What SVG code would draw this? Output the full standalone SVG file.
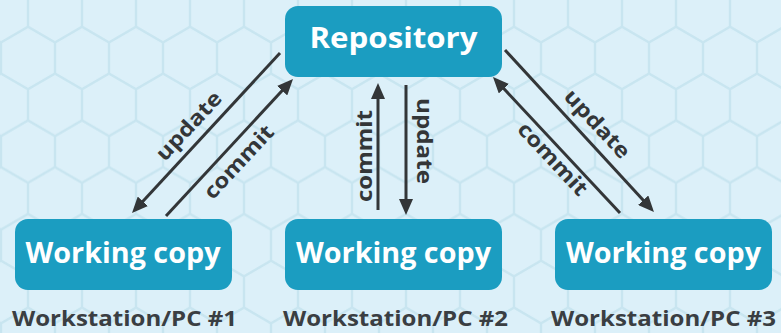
<svg xmlns="http://www.w3.org/2000/svg" width="781" height="333" viewBox="0 0 781 333">
  <style>
    .box { fill: #1b9dc1; }
    .title { font-family: "Open Sans", "Liberation Sans", sans-serif; font-weight: 700; font-size: 28px; fill: #ffffff; text-anchor: middle; }
    .caption { font-family: "Open Sans", "Liberation Sans", sans-serif; font-weight: 700; font-size: 22px; fill: #3a3e42; text-anchor: middle; }
    .flow { stroke: #333638; stroke-width: 3; fill: none; marker-end: url(#head); }
    .tag { font-family: "Open Sans", "Liberation Sans", sans-serif; font-weight: 700; font-size: 21px; fill: #333638; text-anchor: middle; }
  </style>
  <defs>
    <!-- pointy-top honeycomb backdrop -->
    <pattern id="hex" patternUnits="userSpaceOnUse" x="1" y="11.2" width="54" height="93.6">
      <path d="M27,15.6 L54,31.2 L54,62.4 L27,78 L0,62.4 L0,31.2 Z M27,0 L27,15.6 M27,78 L27,93.6"
            fill="none" stroke="#c8e5f0" stroke-width="2.4"/>
    </pattern>
    <filter id="soft" x="0" y="0" width="1" height="1">
      <feGaussianBlur stdDeviation="0.7"/>
    </filter>
    <marker id="head" markerUnits="userSpaceOnUse" markerWidth="16" markerHeight="14" refX="6" refY="7" orient="auto">
      <path d="M0,0 L16,7 L0,14 Z" fill="#333638"/>
    </marker>
  </defs>

  <rect width="781" height="333" fill="#dcf0f9"/>
  <rect width="781" height="333" fill="url(#hex)" filter="url(#soft)"/>

  <g id="repository">
    <rect class="box" x="285" y="6" width="217" height="71" rx="13"/>
    <text class="title" x="393.5" y="48" textLength="168" lengthAdjust="spacingAndGlyphs">Repository</text>
  </g>

  <g id="working-copy-1">
    <rect class="box" x="15" y="219" width="217" height="71" rx="13"/>
    <text class="title" x="123" y="263" textLength="195" lengthAdjust="spacingAndGlyphs">Working copy</text>
    <text class="caption" x="124.5" y="326" textLength="225" lengthAdjust="spacingAndGlyphs">Workstation/PC #1</text>
  </g>

  <g id="working-copy-2">
    <rect class="box" x="285" y="219" width="217" height="71" rx="13"/>
    <text class="title" x="393.5" y="263" textLength="195" lengthAdjust="spacingAndGlyphs">Working copy</text>
    <text class="caption" x="395.5" y="326" textLength="225" lengthAdjust="spacingAndGlyphs">Workstation/PC #2</text>
  </g>

  <g id="working-copy-3">
    <rect class="box" x="555" y="219" width="217" height="71" rx="13"/>
    <text class="title" x="663.5" y="263" textLength="195" lengthAdjust="spacingAndGlyphs">Working copy</text>
    <text class="caption" x="663.5" y="326" textLength="225" lengthAdjust="spacingAndGlyphs">Workstation/PC #3</text>
  </g>

  <g id="connectors">
    <!-- left pair -->
    <line class="flow" x1="280" y1="53" x2="138.8" y2="205.7"/>
    <line class="flow" x1="166" y1="216" x2="286.2" y2="86.3"/>
    <text class="tag" transform="translate(194,130.8) rotate(-47)" textLength="86" lengthAdjust="spacingAndGlyphs">update</text>
    <text class="tag" transform="translate(244,166.8) rotate(-47)" textLength="92" lengthAdjust="spacingAndGlyphs">commit</text>

    <!-- middle pair -->
    <line class="flow" x1="378" y1="210" x2="378" y2="93"/>
    <line class="flow" x1="406" y1="85" x2="406" y2="205"/>
    <text class="tag" transform="translate(372,156) rotate(-90)" textLength="92" lengthAdjust="spacingAndGlyphs">commit</text>
    <text class="tag" transform="translate(417,141) rotate(90)" textLength="86" lengthAdjust="spacingAndGlyphs">update</text>

    <!-- right pair -->
    <line class="flow" x1="505" y1="50" x2="647.2" y2="204.6"/>
    <line class="flow" x1="620" y1="213" x2="499.8" y2="84.3"/>
    <text class="tag" transform="translate(592,128.8) rotate(47)" textLength="86" lengthAdjust="spacingAndGlyphs">update</text>
    <text class="tag" transform="translate(547.5,163.8) rotate(47)" textLength="92" lengthAdjust="spacingAndGlyphs">commit</text>
  </g>
</svg>
